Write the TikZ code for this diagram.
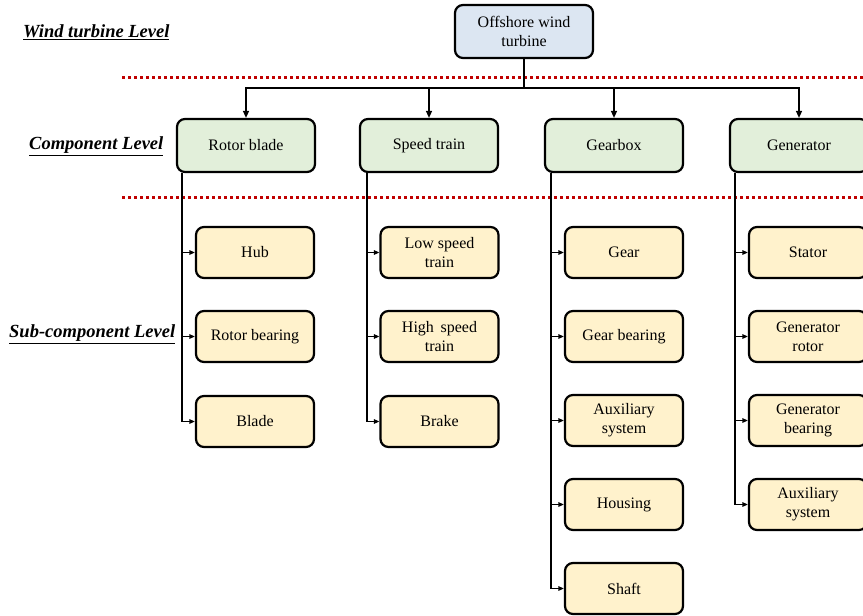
\documentclass[tikz,border=0pt]{standalone}
\usepackage{fontspec}
\setmainfont{Liberation Serif}
\usetikzlibrary{arrows.meta}
\definecolor{topfill}{HTML}{DCE6F2}
\definecolor{compfill}{HTML}{E2EFDA}
\definecolor{subfill}{HTML}{FFF2CC}
\definecolor{dotred}{HTML}{C00000}
\tikzset{
  box/.style={draw=black, line width=2.2pt, rounded corners=8pt, align=center, inner sep=0pt,
    font=\fontsize{16}{19}\selectfont},
  topbox/.style={box, fill=topfill, minimum width=138pt, minimum height=53pt},
  compbox/.style={box, fill=compfill, minimum width=138pt, minimum height=53pt},
  subbox/.style={box, fill=subfill, minimum width=118pt, minimum height=51pt},
  arr/.style={line width=1.4pt, -{Triangle[length=7pt,width=6pt]}},
  sarr/.style={line width=1.4pt, -{Triangle[length=5.5pt,width=4.5pt]}},
  lvl/.style={anchor=west, inner sep=0pt, font=\fontsize{18.5}{20}\selectfont\bfseries\itshape},
  sep/.style={draw=dotred, line width=3pt, dash pattern=on 3pt off 3pt}
}
\begin{document}
\begin{tikzpicture}[x=1pt,y=-1pt]
\useasboundingbox (0,0) rectangle (863,616);
\clip (0,0) rectangle (863,616);
\fill[white] (0,0) rectangle (863,616);

% separators
\draw[sep] (122,77.5) -- (863,77.5);
\draw[sep] (122,197) -- (863,197);

% level labels
\node[lvl] (l1) at (23,32) {\underline{Wind turbine Level}};
\node[lvl] (l2) at (29,146) {\underline{Component Level}};
\node[lvl] (l3) at (9,334) {\underline{Sub-component Level}};

% top
\node[topbox] (ow) at (524,31.5) {Offshore wind\\turbine};

% components
\node[compbox] (rb) at (246,145.5) {Rotor blade};
\node[compbox] (st) at (429,145.5) {Speed train};
\node[compbox] (gb) at (614,145.5) {Gearbox};
\node[compbox] (gn) at (799,145.5) {Generator};

\coordinate (bus) at (524,88);
\draw[line width=1.4pt] (ow.south) -- (bus);
\draw[arr] (bus) -| (rb.north);
\draw[arr] (bus) -| (st.north);
\draw[arr] (bus) -| (gb.north);
\draw[arr] (bus) -| (gn.north);

% rotor blade subs
\node[subbox] (hub) at (255,252.5) {Hub};
\node[subbox] (rbr) at (255,336.5) {Rotor bearing};
\node[subbox] (bld) at (255,421.5) {Blade};
% speed train subs
\node[subbox] (lst) at (439.5,252.5) {Low speed\\train};
\node[subbox] (hst) at (439.5,336.5) {High\, speed\\train};
\node[subbox] (brk) at (439.5,421.5) {Brake};
% gearbox subs
\node[subbox] (gr) at (624,252.5) {Gear};
\node[subbox] (gbr) at (624,336.5) {Gear bearing};
\node[subbox] (aux) at (624,420.5) {Auxiliary\\system};
\node[subbox] (hsg) at (624,504.5) {Housing};
\node[subbox] (sft) at (624,588.5) {Shaft};
% generator subs
\node[subbox] (sta) at (808,252.5) {Stator};
\node[subbox] (grt) at (808,336.5) {Generator\\rotor};
\node[subbox] (gbe) at (808,420.5) {Generator\\bearing};
\node[subbox] (gax) at (808,504.5) {Auxiliary\\system};

% branches
\coordinate (trb) at ([xshift=6pt]rb.south west);
\coordinate (tst) at ([xshift=8pt]st.south west);
\coordinate (tgb) at ([xshift=7pt]gb.south west);
\coordinate (tgn) at ([xshift=6pt]gn.south west);

\foreach \n in {hub,rbr,bld} \draw[sarr] (trb) |- (\n.west);
\foreach \n in {lst,hst,brk} \draw[sarr] (tst) |- (\n.west);
\foreach \n in {gr,gbr,aux,hsg,sft} \draw[sarr] (tgb) |- (\n.west);
\foreach \n in {sta,grt,gbe,gax} \draw[sarr] (tgn) |- (\n.west);
\end{tikzpicture}
\end{document}
